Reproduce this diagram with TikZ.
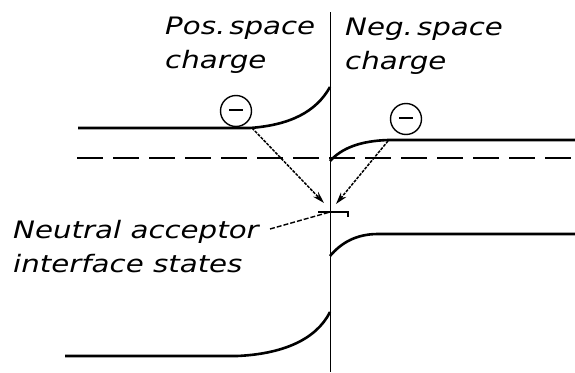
\documentclass[tikz,border=0pt]{standalone}
\usepackage{fontspec}
\newfontfamily\plotfont[FakeStretch=1.22]{DejaVu Sans}
\usetikzlibrary{arrows.meta}
\tikzset{
  band/.style={line width=2.6pt},
  fermi/.style={line width=2.2pt, dash pattern=on 26pt off 10pt},
  junction/.style={line width=0.9pt},
  hop/.style={line width=1.5pt, dash pattern=on 3pt off 1.2pt, -{Stealth[length=12pt,width=7pt]}},
  leader/.style={line width=1.4pt, dash pattern=on 5pt off 2pt},
  electron/.style={circle, draw, line width=1.4pt, minimum size=31pt, inner sep=0pt},
  lbl/.style={font=\plotfont\itshape\fontsize{24}{34}\selectfont, align=left, inner sep=0pt, anchor=base west}
}
\begin{document}
\begin{tikzpicture}[x=1pt,y=-1pt]
\useasboundingbox (0,0) rectangle (575,372);
% junction
\coordinate (jt) at (330,12);
\coordinate (jb) at (330,372);
\draw[junction] (jt) -- (jb);
% left conduction band
\coordinate (lc0) at (78,128);
\coordinate (lc1) at (250,128);
\coordinate (lc2) at (330,87);
\draw[band] (lc0) -- (lc1) .. controls (290,125) and (316,112) .. (lc2);
% right conduction band
\coordinate (rc0) at (330,161);
\coordinate (rc1) at (388,140);
\coordinate (rc2) at (575,140);
\draw[band] (rc0) .. controls (342,148) and (360,141) .. (rc1) -- (rc2);
% fermi level
\coordinate (f0) at (77,158);
\coordinate (f1) at (575,158);
\draw[fermi] (f0) -- (f1);
% left valence band
\coordinate (lv0) at (65,356);
\coordinate (lv1) at (237,356);
\coordinate (lv2) at (330,312);
\draw[band] (lv0) -- (lv1) .. controls (282,354) and (316,340) .. (lv2);
% right valence band
\coordinate (rv0) at (330,256);
\coordinate (rv1) at (378,234);
\coordinate (rv2) at (575,234);
\draw[band] (rv0) .. controls (341,243) and (356,234) .. (rv1) -- (rv2);
% interface states
\coordinate (is0) at (318,212);
\coordinate (is1) at (348,212);
\coordinate (is2) at (348,217);
\draw[line width=1.3pt] (is0) -- (is1) -- (is2);
% electrons
\node[electron] (eL) at (236,111) {\rule[2.5pt]{14pt}{2pt}};
\node[electron] (eR) at (406,119) {\rule[2.5pt]{14pt}{2pt}};
% hops
\coordinate (aL0) at (252,128);
\coordinate (aL1) at (324,203);
\coordinate (aR0) at (388,141);
\coordinate (aR1) at (336,204);
\draw[hop] (aL0) -- (aL1);
\draw[hop] (aR0) -- (aR1);
% labels
\node[lbl] (pos) at (165,68) {Pos.\,space\\charge};
\node[lbl] (neg) at (345,69) {Neg.\,space\\charge};
\node[lbl] (neu) at (13,272) {Neutral acceptor\\interface states};
\coordinate (ld) at (330,212);
\draw[leader] (270,229) -- (ld);
\end{tikzpicture}
\end{document}
